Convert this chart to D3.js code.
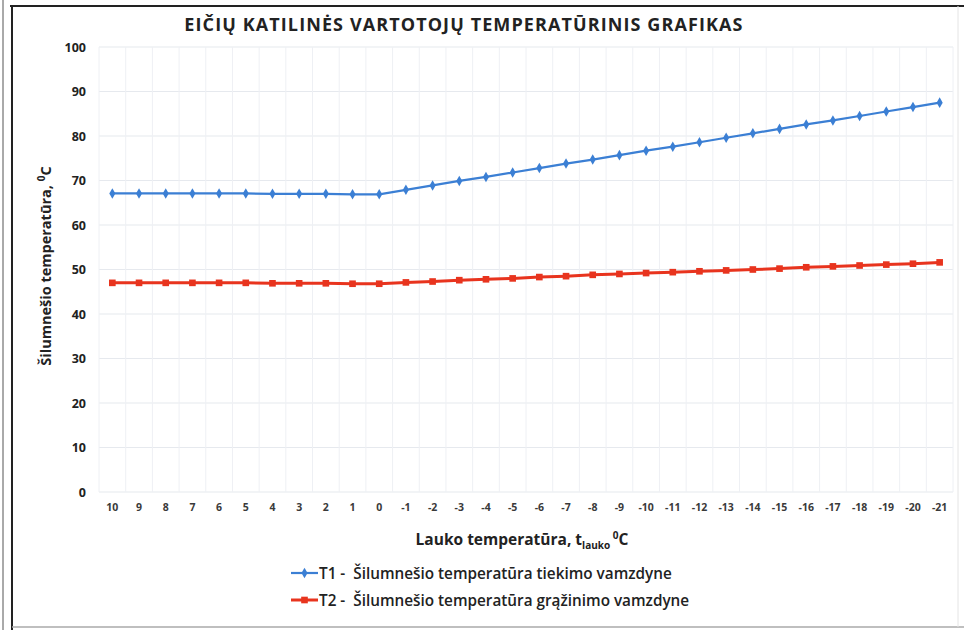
<!DOCTYPE html>
<html><head><meta charset="utf-8">
<script src="https://cdn.jsdelivr.net/npm/d3@7"></script>
<style>body{margin:0;background:#fff}svg{display:block}</style>
</head><body>
<script>
const categories = ["10","9","8","7","6","5","4","3","2","1","0","-1","-2","-3","-4","-5","-6","-7","-8","-9","-10","-11","-12","-13","-14","-15","-16","-17","-18","-19","-20","-21"];
const t1 = [67.1,67.1,67.1,67.1,67.1,67.1,67.0,67.0,67.0,66.9,66.9,67.9,68.9,69.9,70.8,71.8,72.8,73.8,74.7,75.7,76.7,77.6,78.6,79.6,80.6,81.6,82.6,83.5,84.5,85.5,86.5,87.5];
const t2 = [47.0,47.0,47.0,47.0,47.0,47.0,46.9,46.9,46.9,46.8,46.8,47.1,47.3,47.6,47.8,48.0,48.3,48.5,48.8,49.0,49.2,49.4,49.6,49.8,50.0,50.2,50.5,50.7,50.9,51.1,51.3,51.6];
const yTicks = [0,10,20,30,40,50,60,70,80,90,100];
const title = "EIČIŲ KATILINĖS VARTOTOJŲ TEMPERATŪRINIS GRAFIKAS";
const legendLabels = ["T1 -  Šilumnešio temperatūra tiekimo vamzdyne","T2 -  Šilumnešio temperatūra grąžinimo vamzdyne"];

const W=964,H=630;
const svg=d3.select("body").append("svg").attr("width",W).attr("height",H);
const font="'Open Sans', 'DejaVu Sans', sans-serif";

// scanned frame
svg.append("line").attr("x1",10).attr("x2",W).attr("y1",6).attr("y2",6).attr("stroke","#222").attr("stroke-width",2);
svg.append("line").attr("x1",3).attr("x2",3).attr("y1",0).attr("y2",H).attr("stroke","#555").attr("stroke-width",1);
svg.append("line").attr("x1",12).attr("x2",12).attr("y1",6).attr("y2",H).attr("stroke","#222").attr("stroke-width",2);
svg.append("line").attr("x1",12).attr("x2",W).attr("y1",627).attr("y2",627).attr("stroke","#aaa").attr("stroke-width",1.5);
svg.append("line").attr("x1",958).attr("x2",958).attr("y1",6).attr("y2",627).attr("stroke","#e4e4e4").attr("stroke-width",1);

const pL=99,pR=953,pT=47,pB=492;
const x=d3.scaleBand().domain(categories).range([pL,pR]);
const y=d3.scaleLinear().domain([0,100]).range([pB,pT]);
const cx=c=>x(c)+x.bandwidth()/2;

// grid
const g=svg.append("g");
g.selectAll(".hg").data(yTicks).join("line").attr("x1",pL).attr("x2",pR)
 .attr("y1",d=>y(d)).attr("y2",d=>y(d)).attr("stroke","#e6e9ee").attr("stroke-width",1.2);
g.selectAll(".vg").data(categories.concat(["end"])).join("line")
 .attr("x1",(d,i)=>pL+i*x.bandwidth()).attr("x2",(d,i)=>pL+i*x.bandwidth())
 .attr("y1",pT).attr("y2",pB).attr("stroke","#eef0f4").attr("stroke-width",1);

// y axis
const ya=svg.append("g").attr("transform",`translate(${pL-13},0)`)
 .call(d3.axisLeft(y).tickValues(yTicks).tickSize(0).tickPadding(0));
ya.select(".domain").remove();
ya.selectAll("text").attr("font-family",font).attr("font-weight","bold").attr("font-size",12.5).attr("fill","#222");

// x axis
const xa=svg.append("g").attr("transform",`translate(0,${pB+12})`)
 .call(d3.axisBottom(x).tickSize(0).tickPadding(0));
xa.select(".domain").remove();
xa.selectAll("text").attr("font-family",font).attr("font-weight","bold").attr("font-size",10.5).attr("fill","#3a3a3a").attr("dy","0.7em");

// title
svg.append("text").attr("x",464).attr("y",31).attr("text-anchor","middle").attr("font-family",font)
 .attr("font-weight","bold").attr("font-size",18).attr("letter-spacing","1.1").attr("fill","#222").text(title);

// axis titles
svg.append("text").attr("transform","translate(51,266) rotate(-90)").attr("text-anchor","middle")
 .attr("font-family",font).attr("font-weight","bold").attr("font-size",14.5).attr("fill","#222")
 .call(t=>{t.append("tspan").text("Šilumnešio temperatūra, ");t.append("tspan").attr("dy",-6).attr("font-size",10).text("0");t.append("tspan").attr("dy",6).text("C");});
svg.append("text").attr("x",522).attr("y",545).attr("text-anchor","middle")
 .attr("font-family",font).attr("font-weight","bold").attr("font-size",15.5).attr("fill","#222")
 .call(t=>{t.append("tspan").text("Lauko temperatūra, t");t.append("tspan").attr("dy",4).attr("font-size",10).text("lauko");t.append("tspan").attr("dy",-10).attr("font-size",10).text(" 0");t.append("tspan").attr("dy",6).text("C");});

// series
const series=[{v:t1,c:"#3b7fd4",m:"diamond"},{v:t2,c:"#e8341e",m:"square"}];
const line=d3.line().x((d,i)=>cx(categories[i])).y(d=>y(d));
series.forEach(s=>{
  svg.append("path").datum(s.v).attr("d",line).attr("fill","none").attr("stroke",s.c).attr("stroke-width",s.m==="square"?3:2.2);
  svg.selectAll(null).data(s.v).join("path")
   .attr("transform",(d,i)=>`translate(${cx(categories[i])},${y(d)})`)
   .attr("d",d3.symbol().type(s.m==="square"?d3.symbolSquare:d3.symbolDiamond).size(s.m==="square"?44:32))
   .attr("fill",s.c);
});

// legend
legendLabels.forEach((lab,i)=>{
  const ly=573+i*27, s=series[i];
  svg.append("line").attr("x1",291).attr("x2",318).attr("y1",ly).attr("y2",ly).attr("stroke",s.c).attr("stroke-width",i?3:2.2);
  svg.append("path").attr("transform",`translate(304.5,${ly})`).attr("d",d3.symbol().type(i?d3.symbolSquare:d3.symbolDiamond).size(i?44:32)).attr("fill",s.c);
  svg.append("text").attr("x",319).attr("y",ly+5.5).attr("font-family",font).attr("font-weight",600).attr("font-size",15.3).attr("fill","#222").attr("xml:space","preserve").text(lab);
});
</script>
</body></html>
